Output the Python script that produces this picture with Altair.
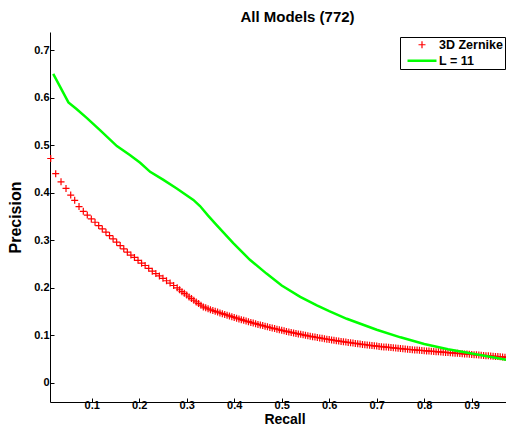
import altair as alt
import pandas as pd

chart_title = "All Models (772)"
series_names = ["3D Zernike", "L = 11"]
x_title = "Recall"
y_title = "Precision"
x_ticks = [0.1, 0.2, 0.3, 0.4, 0.5, 0.6, 0.7, 0.8, 0.9]
y_ticks = [0.0, 0.1, 0.2, 0.3, 0.4, 0.5, 0.6, 0.7]

# 3D Zernike (red '+' markers)
zernike_recall = [
    0.0137, 0.0242, 0.0354, 0.0459, 0.0558, 0.0642, 0.0733, 0.0823, 0.0907, 0.0992,
    0.1070, 0.1147, 0.1223, 0.1300, 0.1375, 0.1450, 0.1525, 0.1600, 0.1675, 0.1750,
    0.1825, 0.1900, 0.1975, 0.2050, 0.2125, 0.2200, 0.2275, 0.2350, 0.2425, 0.2500,
    0.2575, 0.2650, 0.2725, 0.2800,
    0.285, 0.290, 0.295, 0.300, 0.305, 0.310, 0.315, 0.320, 0.325, 0.330,
    0.335, 0.340, 0.345, 0.350, 0.355, 0.360, 0.365, 0.370, 0.375, 0.380,
    0.385, 0.390, 0.395, 0.400, 0.405, 0.410, 0.415, 0.420, 0.425, 0.430,
    0.435, 0.440, 0.445, 0.450, 0.455, 0.460, 0.465, 0.470, 0.475, 0.480,
    0.485, 0.490, 0.495, 0.500, 0.505, 0.510, 0.515, 0.520, 0.525, 0.530,
    0.535, 0.540, 0.545, 0.550, 0.555, 0.560, 0.565, 0.570, 0.575, 0.580,
    0.585, 0.590, 0.595, 0.600, 0.605, 0.610, 0.615, 0.620, 0.625, 0.630,
    0.635, 0.640, 0.645, 0.650, 0.655, 0.660, 0.665, 0.670, 0.675, 0.680,
    0.685, 0.690, 0.695, 0.700, 0.705, 0.710, 0.715, 0.720, 0.725, 0.730,
    0.735, 0.740, 0.745, 0.750, 0.755, 0.760, 0.765, 0.770, 0.775, 0.780,
    0.785, 0.790, 0.795, 0.800, 0.805, 0.810, 0.815, 0.820, 0.825, 0.830,
    0.835, 0.840, 0.845, 0.850, 0.855, 0.860, 0.865, 0.870, 0.875, 0.880,
    0.885, 0.890, 0.895, 0.900, 0.905, 0.910, 0.915, 0.920, 0.925, 0.930,
    0.935, 0.940, 0.945, 0.950, 0.955, 0.960, 0.965, 0.970, 0.975, 0.980,
    0.985, 0.990,
]
zernike_precision = [
    0.472, 0.440, 0.423, 0.409, 0.395, 0.384, 0.371, 0.361, 0.353, 0.345,
    0.338, 0.331, 0.324, 0.317, 0.310, 0.303, 0.296, 0.289, 0.282, 0.275,
    0.269, 0.264, 0.258, 0.252, 0.247, 0.241, 0.235, 0.230, 0.225, 0.220,
    0.215, 0.210, 0.205, 0.200,
    0.1960, 0.1920, 0.1885, 0.1850, 0.1810, 0.1775, 0.1740, 0.1705, 0.1670, 0.1635,
    0.1600, 0.1580, 0.1560, 0.1540, 0.1523, 0.1506, 0.1490, 0.1474, 0.1458, 0.1442,
    0.1426, 0.1410, 0.1394, 0.1378, 0.1362, 0.1347, 0.1332, 0.1317, 0.1302, 0.1288,
    0.1274, 0.1260, 0.1246, 0.1232, 0.1219, 0.1206, 0.1193, 0.1180, 0.1167, 0.1155,
    0.1143, 0.1131, 0.1119, 0.1107, 0.1096, 0.1085, 0.1074, 0.1063, 0.1052, 0.1042,
    0.1032, 0.1022, 0.1012, 0.1002, 0.0992, 0.0983, 0.0974, 0.0965, 0.0956, 0.0947,
    0.0938, 0.0930, 0.0922, 0.0914, 0.0906, 0.0898, 0.0890, 0.0882, 0.0874, 0.0867,
    0.0860, 0.0853, 0.0846, 0.0839, 0.0832, 0.0825, 0.0818, 0.0811, 0.0805, 0.0799,
    0.0793, 0.0787, 0.0781, 0.0775, 0.0769, 0.0764, 0.0759, 0.0754, 0.0749, 0.0744,
    0.0739, 0.0734, 0.0729, 0.0724, 0.0719, 0.0714, 0.0709, 0.0704, 0.0700, 0.0696,
    0.0691, 0.0687, 0.0683, 0.0679, 0.0675, 0.0671, 0.0667, 0.0663, 0.0659, 0.0655,
    0.0651, 0.0647, 0.0643, 0.0639, 0.0635, 0.0631, 0.0627, 0.0623, 0.0619, 0.0615,
    0.0611, 0.0607, 0.0603, 0.0599, 0.0595, 0.0591, 0.0587, 0.0583, 0.0579, 0.0575,
    0.0571, 0.0567, 0.0563, 0.0559, 0.0555, 0.0551, 0.0547, 0.0543, 0.0540, 0.0537,
    0.0534, 0.0531,
]

# L = 11 (green line)
l11_recall = [
    0.019, 0.051, 0.068, 0.090, 0.118, 0.153, 0.181, 0.202, 0.223, 0.251,
    0.279, 0.314, 0.328, 0.345, 0.363, 0.398, 0.433, 0.468, 0.500, 0.539,
    0.574, 0.600, 0.637, 0.700, 0.750, 0.800, 0.850, 0.900, 0.950, 0.989,
]
l11_precision = [
    0.650, 0.590, 0.576, 0.557, 0.531, 0.498, 0.479, 0.463, 0.444, 0.427,
    0.409, 0.385, 0.372, 0.352, 0.332, 0.294, 0.259, 0.230, 0.205, 0.181,
    0.163, 0.151, 0.135, 0.112, 0.096, 0.082, 0.071, 0.062, 0.053, 0.046,
]

df_z = pd.DataFrame({"recall": zernike_recall, "precision": zernike_precision, "series": series_names[0]})
df_l = pd.DataFrame({"recall": l11_recall, "precision": l11_precision, "series": series_names[1]})

FONT = "Liberation Sans"
PLUS = "M-1,0H1M0,-1V1"
DASH = "M-4.14,0H4.14"

x_enc = alt.X(
    "recall:Q",
    scale=alt.Scale(domain=[0.0122, 0.9722], nice=False, zero=False),
    axis=alt.Axis(values=x_ticks, format=".1~f", title=x_title),
)
y_enc = alt.Y(
    "precision:Q",
    scale=alt.Scale(domain=[-0.04, 0.738], nice=False, zero=False),
    axis=alt.Axis(values=y_ticks, format=".1~f", title=y_title),
)
color_enc = alt.Color(
    "series:N",
    scale=alt.Scale(domain=series_names, range=["#ff0000", "#00ff00"]),
    legend=alt.Legend(title=None),
)
shape_enc = alt.Shape(
    "series:N",
    scale=alt.Scale(domain=series_names, range=[PLUS, DASH]),
    legend=alt.Legend(title=None),
)
sw_enc = alt.StrokeWidth(
    "series:N",
    scale=alt.Scale(domain=series_names, range=[1.2, 2.5]),
    legend=alt.Legend(title=None),
)

points = alt.Chart(df_z).mark_point(filled=False, size=49, opacity=1).encode(
    x=x_enc, y=y_enc, color=color_enc, shape=shape_enc, strokeWidth=sw_enc
)
line = alt.Chart(df_l).mark_line().encode(
    x=x_enc, y=y_enc, color=color_enc, strokeWidth=sw_enc
)

chart = (
    alt.layer(points, line)
    .properties(
        width=456,
        height=370,
        autosize=alt.AutoSizeParams(type="none"),
        padding={"left": 42, "top": 24, "right": 0, "bottom": 26},
        title=alt.TitleParams(chart_title),
    )
    .configure_view(stroke=None)
    .configure_axis(
        labelFont=FONT,
        labelFontSize=11,
        labelFontWeight="bold",
        labelColor="black",
        titleFont=FONT,
        titleFontSize=16,
        titleFontWeight="bold",
        titleColor="black",
        domainColor="black",
        tickColor="black",
        grid=False,
        tickSize={"expr": "-4"},
    )
    .configure_axisX(labelPadding=1.5, titlePadding=2, titleFontSize=14, titleX=234.5)
    .configure_axisY(labelPadding=5, titlePadding=10)
    .configure_title(
        font=FONT,
        fontSize=15,
        fontWeight="bold",
        color="black",
        anchor="middle",
        dx=19.5,
        offset=7,
    )
    .configure_legend(
        orient="none",
        legendX=350,
        legendY=5,
        padding=1.5,
        symbolOffset=14.25,
        symbolSize=49,
        rowPadding=3,
        labelOffset=10.75,
        labelFont=FONT,
        labelFontSize=12.5,
        labelFontWeight="bold",
        labelColor="black",
        strokeColor="black",
        fillColor="white",
        cornerRadius=0,
    )
)

chart.save("out.html", embed_options={"renderer": "svg", "actions": False})
